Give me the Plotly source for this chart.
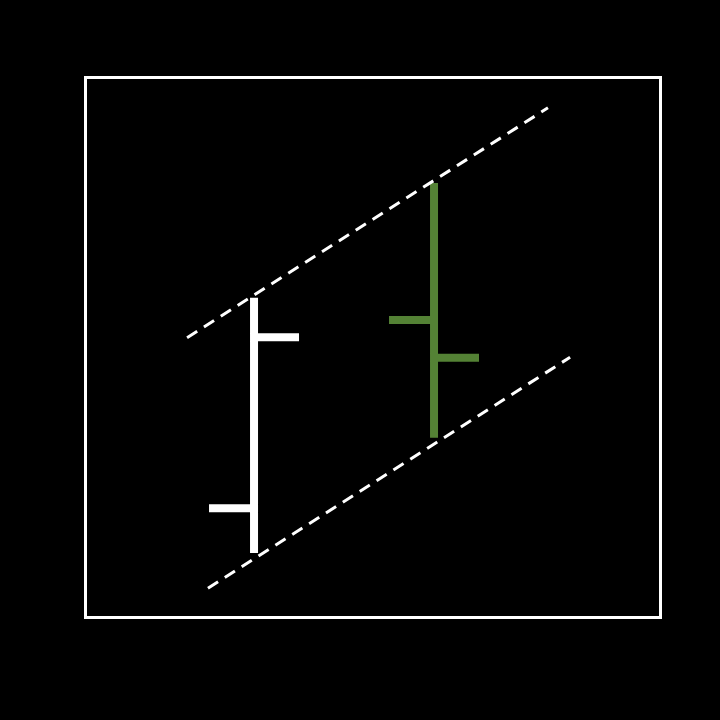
import plotly.graph_objects as go

# two OHLC bars and a dashed trend channel
bar_x = [0, 1]
opens = [2.03, 5.51]
highs = [5.92, 8.04]
lows = [1.20, 3.33]
closes = [5.19, 4.81]

upper_x = [-0.372, 1.633]
upper_y = [5.18, 9.43]
lower_x = [-0.256, 1.756]
lower_y = [0.55, 4.82]

fig = go.Figure()
fig.add_trace(go.Ohlc(
    x=bar_x, open=opens, high=highs, low=lows, close=closes,
    increasing=dict(line=dict(color="white", width=8)),
    decreasing=dict(line=dict(color="#548235", width=8)),
    tickwidth=0.25, showlegend=False, hoverinfo="skip",
))
for xs, ys in [(upper_x, upper_y), (lower_x, lower_y)]:
    fig.add_trace(go.Scatter(
        x=xs, y=ys, mode="lines", showlegend=False, hoverinfo="skip",
        line=dict(color="white", width=3, dash="12px,8px"),
    ))

axis_style = dict(showline=True, linecolor="white", linewidth=3, mirror=True,
                  showgrid=False, zeroline=False, showticklabels=False, ticks="")
fig.update_xaxes(range=[-0.928, 2.250], type="linear", rangeslider_visible=False, **axis_style)
fig.update_yaxes(range=[0.037, 9.963], **axis_style)
fig.update_layout(
    width=720, height=720,
    paper_bgcolor="black", plot_bgcolor="black",
    margin=dict(l=87, r=61, t=79, b=104),
)
fig.write_html(
    "out.html",
    config={"displayModeBar": False},
    post_script="document.body.style.margin='0';document.body.style.background='black';",
)
